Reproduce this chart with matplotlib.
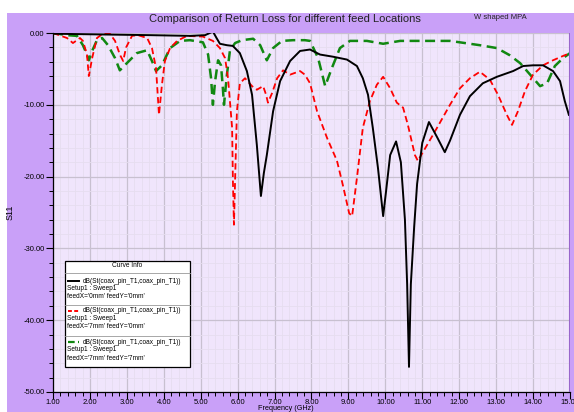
import numpy as np
import matplotlib
matplotlib.use('Agg')
import matplotlib.pyplot as plt
from matplotlib.patches import Rectangle
from matplotlib.lines import Line2D
from matplotlib.ticker import MultipleLocator, FormatStrFormatter

plt.rcParams['font.family'] = ['Liberation Sans', 'DejaVu Sans']

# feedX=0mm feedY=0mm (black)
f_black = [1.00, 2.27, 3.63, 4.71, 5.12, 5.33, 5.44, 5.52, 5.71, 5.87, 6.06, 6.25, 6.39, 6.52,
           6.63, 6.71, 6.79, 6.96, 7.15, 7.42, 7.69, 7.96, 8.23, 8.58, 8.96, 9.23, 9.39, 9.53,
           9.66, 9.80, 9.94, 10.02, 10.13, 10.29, 10.42, 10.53, 10.59, 10.64, 10.69, 10.78,
           10.86, 11.00, 11.18, 11.40, 11.61, 11.75, 12.02, 12.29, 12.64, 13.02, 13.46, 13.73,
           14.00, 14.27, 14.54, 14.73, 14.86, 14.97]
s_black = [-0.1, -0.2, -0.3, -0.4, -0.3, 0.2, -0.8, -1.5, -1.7, -1.8, -2.8, -5.3, -8.6, -15.6,
           -22.7, -19.5, -17.0, -10.9, -6.7, -3.9, -2.5, -2.3, -3.0, -3.3, -3.7, -4.6, -6.3, -8.6,
           -13.2, -18.8, -25.5, -22.0, -17.0, -15.1, -18.0, -26.0, -35.0, -46.5, -35.0, -27.0,
           -21.0, -15.3, -12.4, -14.5, -16.6, -15.0, -11.4, -8.8, -7.0, -6.1, -5.3, -4.6,
           -4.5, -4.5, -5.3, -6.7, -9.5, -11.4]

# feedX=7mm feedY=0mm (red)
f_red = [1.00, 1.38, 1.54, 1.73, 1.81, 1.92, 1.97, 2.06, 2.19, 2.35, 2.54, 2.68, 2.81, 2.90,
         2.98, 3.14, 3.30, 3.55, 3.68, 3.79, 3.87, 3.95, 4.03, 4.17, 4.36, 4.63, 5.06, 5.33,
         5.52, 5.66, 5.74, 5.85, 5.87, 5.90, 5.98, 6.06, 6.20, 6.39, 6.52, 6.69, 6.77, 6.82,
         6.93, 7.07, 7.23, 7.42, 7.69, 7.82, 7.96, 8.15, 8.42, 8.69, 8.85, 9.02, 9.10, 9.23,
         9.39, 9.58, 9.77, 9.94, 10.13, 10.31, 10.48, 10.61, 10.80, 10.88, 11.13, 11.40,
         11.75, 12.02, 12.29, 12.56, 12.83, 13.05, 13.29, 13.43, 13.59, 13.78, 14.00, 14.27,
         14.54, 14.81, 15.00]
s_red = [0.0, -0.7, -1.4, -0.7, -1.1, -3.0, -6.0, -3.5, -0.7, -0.1, -0.1, -1.1, -3.0, -3.9,
         -2.0, -0.4, -0.3, -0.7, -2.1, -4.9, -11.4, -7.2, -3.9, -2.1, -1.1, -0.4, -0.5, -1.1,
         -2.1, -3.5, -6.3, -13.2, -20.2, -26.7, -10.9, -7.0, -6.3, -7.4, -7.9, -7.4, -8.6, -9.7,
         -8.4, -6.3, -5.2, -5.8, -5.3, -5.8, -7.0, -10.9, -14.6, -17.8, -21.2, -25.1, -25.5, -20.2,
         -13.2, -9.5, -7.2, -6.1, -7.7, -9.7, -10.4, -12.8, -17.0, -17.8, -15.6, -13.2,
         -10.0, -7.7, -6.3, -5.4, -6.5, -8.6, -11.4, -12.8, -10.9, -8.1, -5.8, -4.5,
         -3.8, -3.2, -2.8]

# feedX=7mm feedY=7mm (green)
f_green = [1.00, 1.38, 1.65, 1.81, 1.92, 1.97, 2.06, 2.19, 2.33, 2.49, 2.68, 2.81, 3.00, 3.27,
           3.55, 3.68, 3.79, 3.95, 4.17, 4.44, 4.71, 5.06, 5.20, 5.28, 5.33, 5.39, 5.47, 5.55,
           5.60, 5.63, 5.71, 5.79, 5.93, 6.12, 6.42, 6.61, 6.79, 6.96, 7.20, 7.50, 7.82, 7.96,
           8.18, 8.37, 8.55, 8.77, 9.04, 9.50, 9.94, 10.40, 11.75, 12.02, 12.56, 13.02, 13.37,
           13.65, 13.92, 14.19, 14.38, 14.59, 14.81, 15.00]
s_green = [0.0, -0.3, -0.4, -1.7, -3.0, -3.8, -2.5, -1.0, -0.7, -1.7, -3.5, -5.2, -4.2, -2.8,
           -2.4, -3.9, -5.3, -4.5, -2.1, -1.1, -1.0, -1.3, -3.0, -6.3, -10.0, -6.7, -3.8, -4.5,
           -7.7, -10.0, -5.8, -2.5, -1.4, -1.0, -0.8, -1.7, -3.8, -2.1, -1.1, -1.0, -1.0, -1.1,
           -3.5, -7.4, -4.9, -2.1, -1.1, -1.1, -1.5, -1.1, -1.1, -1.3, -1.7, -2.1, -3.1,
           -4.2, -5.8, -7.4, -7.0, -4.6, -3.5, -2.8]

labels = ["dB(St(coax_pin_T1,coax_pin_T1))", "Setup1 : Sweep1"]
feeds = ["feedX='0mm' feedY='0mm'", "feedX='7mm' feedY='0mm'", "feedX='7mm' feedY='7mm'"]

fig = plt.figure(figsize=(5.74, 4.12), dpi=100, facecolor='white')
fig.patches.append(Rectangle((7/574, 0), 1, (412-13)/412, transform=fig.transFigure,
                             facecolor='#c9a0f8', edgecolor='none', zorder=-5))
ax = fig.add_axes([53/574, 20/412, 517/574, 359/412])
ax.set_facecolor('#f0e5fc')

ax.plot(f_black, s_black, color='black', lw=1.4, zorder=5)
ax.plot(f_red, s_red, color='red', lw=1.3, ls=(0, (3.5, 2)), zorder=4)
ax.plot(f_green, s_green, color='#118811', lw=1.8, ls=(0, (4, 2.2)), zorder=3)

ax.set_xlim(1, 15)
ax.set_ylim(-50, 0)
ax.xaxis.set_major_locator(MultipleLocator(1))
ax.xaxis.set_minor_locator(MultipleLocator(0.2))
ax.yaxis.set_major_locator(MultipleLocator(10))
ax.yaxis.set_minor_locator(MultipleLocator(2))
ax.xaxis.set_major_formatter(FormatStrFormatter('%.2f'))
ax.yaxis.set_major_formatter(FormatStrFormatter('%.2f'))
ax.grid(which='major', color='#c8c0d0', lw=0.9)
ax.grid(which='minor', color='#e6ddef', lw=0.6)
ax.set_axisbelow(True)
ax.tick_params(which='major', direction='out', length=5, width=0.8, labelsize=5.5, pad=1)
ax.tick_params(axis='x', which='major', pad=0.3)
ax.tick_params(which='minor', direction='out', length=3, width=0.7)
for sp in ['top', 'right']:
    ax.spines[sp].set_visible(False)
ax.spines['left'].set_linewidth(0.9)
ax.spines['bottom'].set_linewidth(0.9)
ax.axvline(15, color='#9966cc', lw=1.5, zorder=6)

ax.set_xlabel('Frequency (GHz)', fontsize=5.2)
ax.xaxis.set_label_coords(0.451, -0.035)
ax.set_ylabel('S11', fontsize=6.5)
ax.yaxis.set_label_coords(-0.075, 0.5)

fig.text(0.497, 0.953, 'Comparison of Return Loss for different feed Locations',
         ha='center', va='center', fontsize=8, color='#222222')
fig.text(0.871, 0.958, 'W shaped MPA', ha='center', va='center', fontsize=5.5, color='#222222')

# legend box
def axl(x0, x1, y, **kw):
    ax.add_line(Line2D([x0, x1], [y, y], transform=ax.transAxes, zorder=11, **kw))

ax.add_patch(Rectangle((0.023, 0.070), 0.242, 0.295, transform=ax.transAxes,
                       facecolor='white', edgecolor='black', lw=0.9, zorder=10))
ax.text(0.144, 0.351, 'Curve Info', transform=ax.transAxes, ha='center', va='center',
        fontsize=4.7, zorder=12)
styles = [dict(color='black', lw=1.4),
          dict(color='red', lw=1.4, ls=(0, (2, 1.2))),
          dict(color='#118811', lw=1.6, ls=(0, (3, 1.5)))]
seps = [0.331, 0.242, 0.156]
rows = [(0.309, 0.288, 0.266), (0.226, 0.205, 0.182), (0.139, 0.117, 0.094)]
for i in range(3):
    axl(0.023, 0.265, seps[i], color='#999999', lw=0.6)
    y1, y2, y3 = rows[i]
    axl(0.029, 0.050, y1, **styles[i])
    ax.text(0.058, y1, labels[0], transform=ax.transAxes, va='center', fontsize=4.7, zorder=12)
    ax.text(0.027, y2, labels[1], transform=ax.transAxes, va='center', fontsize=4.7, zorder=12)
    ax.text(0.027, y3, feeds[i], transform=ax.transAxes, va='center', fontsize=4.7, zorder=12)

fig.savefig('out.png', dpi=100, facecolor=fig.get_facecolor())
